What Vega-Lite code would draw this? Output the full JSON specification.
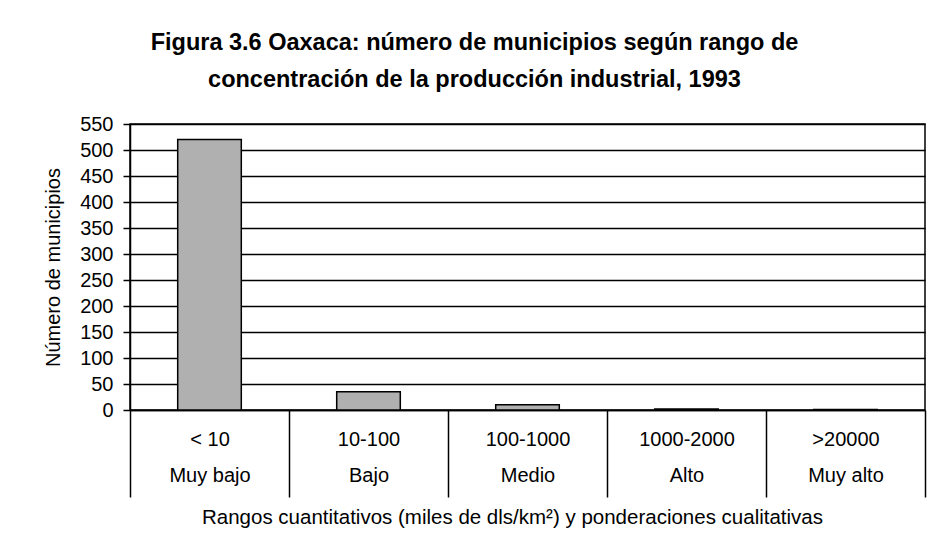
{
  "$schema": "https://vega.github.io/schema/vega-lite/v6.json",
  "autosize": {"type": "none"},
  "width": 795,
  "height": 286,
  "padding": {"left": 130, "top": 124, "right": 12, "bottom": 146},
  "background": "white",
  "config": {
    "font": "Liberation Sans",
    "view": {"stroke": "black", "strokeWidth": 1.5}
  },
  "title": {
    "text": ["Figura 3.6 Oaxaca: número de municipios según rango de", "concentración de la producción industrial, 1993"],
    "font": "Liberation Sans",
    "fontSize": 23.5,
    "fontWeight": "bold",
    "color": "black",
    "lineHeight": 37,
    "anchor": "middle",
    "frame": "group",
    "dx": -53,
    "offset": 23
  },
  "data": {
    "values": [
      {"rango": "< 10|Muy bajo", "municipios": 520},
      {"rango": "10-100|Bajo", "municipios": 35},
      {"rango": "100-1000|Medio", "municipios": 10},
      {"rango": "1000-2000|Alto", "municipios": 2},
      {"rango": ">20000|Muy alto", "municipios": 1}
    ]
  },
  "mark": {"type": "bar", "color": "#b0b0b0", "stroke": "black", "strokeWidth": 1.5, "width": {"band": 0.4}},
  "encoding": {
    "x": {
      "field": "rango",
      "type": "nominal",
      "sort": null,
      "scale": {"paddingInner": 0, "paddingOuter": 0},
      "axis": {
        "title": "Rangos cuantitativos (miles de dls/km²) y ponderaciones cualitativas",
        "titleFont": "Liberation Sans",
        "titleFontSize": 20.5,
        "titleFontWeight": "normal",
        "titleColor": "black",
        "titlePadding": 10,
        "titleX": 382,
        "labelExpr": "datum.value ? split(datum.value, '|') : ''",
        "labelFont": "Liberation Sans",
        "labelFontSize": 20,
        "labelColor": "black",
        "labelLineHeight": 36,
        "labelAngle": 0,
        "labelPadding": -68,
        "tickBand": "extent",
        "tickSize": 87,
        "tickColor": "black",
        "tickWidth": 1.5,
        "domainColor": "black",
        "domainWidth": 1.5,
        "grid": false
      }
    },
    "y": {
      "field": "municipios",
      "type": "quantitative",
      "scale": {"domain": [0, 550], "nice": false},
      "axis": {
        "title": "Número de municipios",
        "values": [0, 50, 100, 150, 200, 250, 300, 350, 400, 450, 500, 550],
        "titleFont": "Liberation Sans",
        "titleFontSize": 20,
        "titleFontWeight": "normal",
        "titleColor": "black",
        "titlePadding": 16,
        "labelFont": "Liberation Sans",
        "labelFontSize": 20,
        "labelColor": "black",
        "labelPadding": 10,
        "tickSize": 7,
        "tickColor": "black",
        "tickWidth": 1.5,
        "domainColor": "black",
        "domainWidth": 1.5,
        "grid": true,
        "gridColor": "black",
        "gridWidth": 1.5,
        "gridOpacity": 1
      }
    }
  }
}
